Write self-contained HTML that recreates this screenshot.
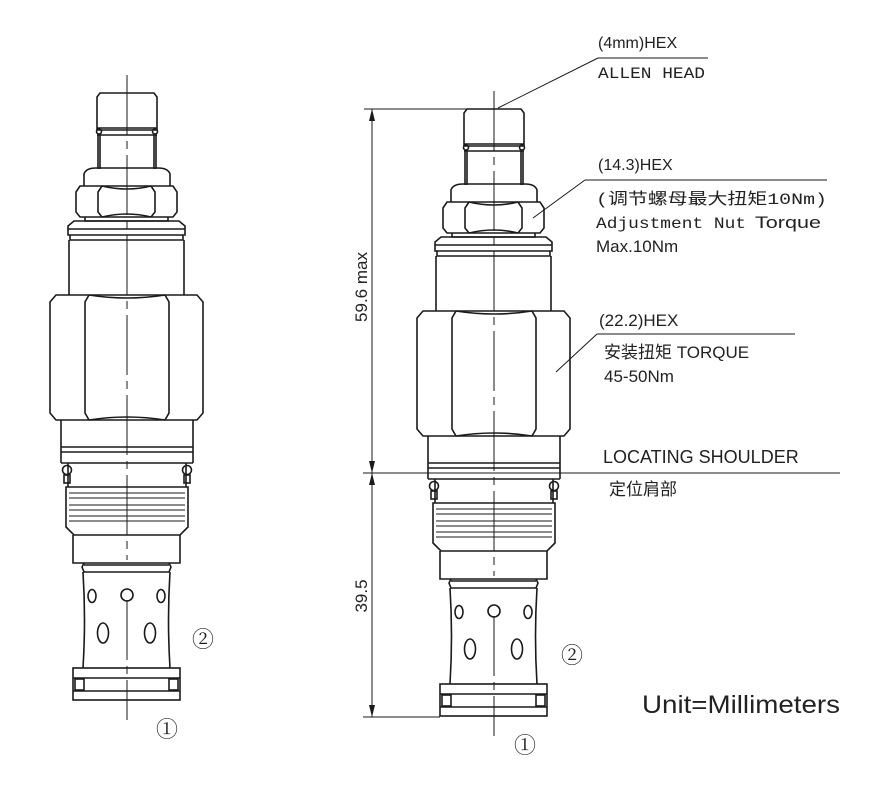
<!DOCTYPE html>
<html><head><meta charset="utf-8"><style>
html,body{margin:0;padding:0;background:#fff;}
svg{display:block;}
.s{fill:none;stroke:#1a1a1a;stroke-width:1.6;}
.t{stroke:#1a1a1a;stroke-width:1;fill:none;}
text{fill:#222;font-family:"Liberation Sans","Noto Sans CJK SC",sans-serif;}
.m{font-family:"Liberation Mono","Noto Sans CJK SC",monospace;}
.c{font-family:"Liberation Serif","Noto Serif CJK SC",serif;font-size:22px;}
</style></head><body>
<svg width="892" height="792" viewBox="0 0 892 792" xmlns="http://www.w3.org/2000/svg">
<defs>
<g id="v">
 <path class="s" d="M97,130 V97 L100,93 H154 L157,97 V130 Z"/>
 <line class="s" x1="97" y1="128" x2="157" y2="128"/>
 <line class="s" x1="97" y1="135" x2="157" y2="135"/>
 <circle class="s" cx="99" cy="131.5" r="2.5"/><circle class="s" cx="155" cy="131.5" r="2.5"/>
 <path class="s" d="M98,135 V169 M156,135 V169 M100,135 V169 M154,135 V169"/>
 <path class="s" d="M84,186 V174 Q86,168 96,168 H158 Q168,168 170,174 V186"/>
 <path class="s" d="M76,192 L80,186 H173 L177,192 V212 L173,217 H80 L76,212 Z"/>
 <path class="s" d="M102,186 L98,192 V212 L102,217 M151,186 L155,192 V212 L151,217"/>
 <path class="s" d="M102,186 Q127,192 151,186 M102,217 Q127,211 151,217"/>
 <path class="s" d="M85,217 V221 H168 V217"/>
 <path class="s" d="M68,235 V226 L74,221 H179 L185,226 V235 Z"/>
 <line class="s" x1="68" y1="229" x2="185" y2="229"/>
 <path class="s" d="M70,235 V240 H183 V235"/>
 <path class="s" d="M69,240 V295 M184,240 V295"/>
 <path class="s" d="M50,302 L56,295 H197 L203,302 V413 L197,420 H56 L50,413 Z"/>
 <path class="s" d="M89,295 L85,302 V413 L89,420 M165,295 L169,302 V413 L165,420"/>
 <path class="s" d="M89,295 Q127,301 165,295 M89,420 Q127,414 165,420"/>
 <path class="s" d="M61,420 V463 M193,420 V463"/>
 <line class="s" x1="61" y1="447" x2="193" y2="447"/>
 <line class="s" x1="61" y1="452" x2="193" y2="452"/>
 <line class="s" x1="61" y1="463" x2="193" y2="463"/>
 <path class="s" d="M68,463 V487 M186,463 V487"/>
 <circle class="s" cx="67" cy="470" r="4.5"/><circle class="s" cx="187" cy="470" r="4.5"/>
 <rect class="s" x="64" y="475" width="6" height="8"/><rect class="s" x="184" y="475" width="6" height="8"/>
 <path class="s" d="M66,487 H188 V527 L180,535 H74 L66,527 Z"/>
 <path class="t" d="M69,493 H185 M69,498 H185 M69,505 H185 M69,510 H185 M69,516 H185 M69,521 H185"/>
 <path class="s" d="M73,535 V563 H180 V535"/>
 <path class="s" d="M84,563 L82,567 L84,572 M169,563 L171,567 L169,572 M84,565 H169"/>
 <path class="s" d="M83,572 H170 M83,572 Q86,620 83,668 M170,572 Q167,620 170,668"/>
 <circle class="s" cx="127" cy="595" r="6"/>
 <ellipse class="s" cx="92" cy="596" rx="4" ry="6.5"/><ellipse class="s" cx="161" cy="596" rx="4" ry="6.5"/>
 <ellipse class="s" cx="103" cy="633" rx="5.5" ry="10"/><ellipse class="s" cx="150" cy="633" rx="5.5" ry="10"/>
 <rect class="s" x="73" y="668" width="107" height="32"/>
 <line class="s" x1="73" y1="678" x2="180" y2="678"/>
 <line class="s" x1="73" y1="691" x2="180" y2="691"/>
 <rect class="s" x="75" y="679" width="9" height="11"/><rect class="s" x="169" y="679" width="9" height="11"/>
 <path class="t" d="M127,75 V560 M127,600 V720" stroke-dasharray="60 6 8 6"/>
</g>
</defs>
<use href="#v"/>
<use href="#v" transform="translate(367,16)"/>
<text x="192" y="647" class="c">②</text>
<text x="156" y="737" class="c">①</text>
<text x="561" y="663" class="c">②</text>
<text x="514" y="753" class="c">①</text>

<line class="t" x1="364" y1="109" x2="490" y2="109"/>
<line class="t" x1="363" y1="473" x2="840" y2="473"/>
<line class="t" x1="363" y1="717" x2="440" y2="717"/>
<line class="t" x1="372" y1="109" x2="372" y2="717"/>
<path d="M372,109 l-3,12 h6 z M372,473 l-3,-12 h6 z M372,473 l-3,12 h6 z M372,717 l-3,-12 h6 z" fill="#1a1a1a"/>
<text transform="translate(367,287) rotate(-90)" font-size="17" text-anchor="middle">59.6 max</text>
<text transform="translate(367,596) rotate(-90)" font-size="17" text-anchor="middle">39.5</text>

<text x="598" y="48" font-size="16">(4mm)HEX</text>
<line class="t" x1="598" y1="58" x2="708" y2="58"/>
<line class="t" x1="598" y1="58" x2="498" y2="108"/>
<text x="598" y="78" font-size="16" class="m" textLength="107" lengthAdjust="spacingAndGlyphs">ALLEN HEAD</text>

<text x="598" y="170" font-size="16">(14.3)HEX</text>
<line class="t" x1="585" y1="180" x2="827" y2="180"/>
<line class="t" x1="585" y1="180" x2="533" y2="218"/>
<text x="596" y="204" font-size="16" class="m" textLength="231" lengthAdjust="spacingAndGlyphs">(调节螺母最大扭矩10Nm)</text>
<text x="596" y="228" font-size="16" class="m" textLength="150" lengthAdjust="spacingAndGlyphs">Adjustment Nut</text>
<text x="755" y="228" font-size="17" textLength="66" lengthAdjust="spacingAndGlyphs">Torque</text>
<text x="596" y="252" font-size="17">Max.10Nm</text>

<text x="599" y="326" font-size="17">(22.2)HEX</text>
<line class="t" x1="597" y1="334" x2="795" y2="334"/>
<line class="t" x1="597" y1="334" x2="556" y2="372"/>
<text x="604" y="358" font-size="17">安装扭矩 TORQUE</text>
<text x="604" y="382" font-size="17">45-50Nm</text>

<text x="603" y="463" font-size="18">LOCATING SHOULDER</text>
<text x="609" y="495" font-size="17">定位肩部</text>

<text x="642" y="713" font-size="25" fill="#333" textLength="198" lengthAdjust="spacingAndGlyphs">Unit=Millimeters</text>
</svg>
</body></html>
